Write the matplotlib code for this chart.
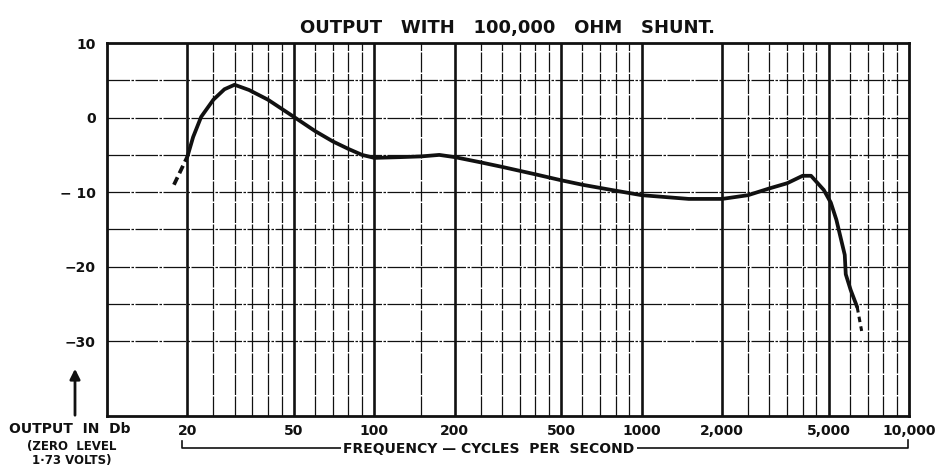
import matplotlib
matplotlib.use('Agg')
import matplotlib.pyplot as plt
from matplotlib.lines import Line2D
from matplotlib.ticker import NullLocator, FixedLocator, FixedFormatter

# ---------------- data ----------------
freq_solid = [20, 21, 22.5, 25, 27.5, 30, 34, 40, 50, 60, 70, 80, 90, 100,
              125, 150, 175, 200, 250, 300, 400, 500, 600, 800, 1000, 1500,
              2000, 2500, 3000, 3500, 4000, 4300, 4800, 5100, 5350, 5550,
              5750, 5800, 6050, 6400]
db_solid = [-5.2, -2.6, 0.1, 2.4, 3.8, 4.4, 3.7, 2.4, 0.1, -1.8, -3.2, -4.2,
            -5.0, -5.4, -5.3, -5.2, -5.0, -5.3, -6.0, -6.6, -7.6, -8.4, -9.0,
            -9.8, -10.4, -10.9, -10.9, -10.4, -9.5, -8.8, -7.8, -7.8, -9.7,
            -11.4, -13.7, -16.1, -18.4, -21.0, -23.1, -25.4]
freq_low_dash = [17.8, 20]
db_low_dash = [-9.0, -5.2]
freq_high_dash = [6400, 6650]
db_high_dash = [-25.4, -28.6]

major_freqs = [20, 50, 100, 200, 500, 1000, 2000, 5000]
minor_freqs = [25, 30, 35, 40, 45, 60, 70, 80, 90, 150, 250, 300, 350, 400,
               450, 600, 700, 800, 900, 2500, 3000, 3500, 4000, 4500, 6000,
               7000, 8000, 9000]
db_grid = [5, 0, -5, -10, -15, -20, -25, -30]

x_tick_vals = [20, 50, 100, 200, 500, 1000, 2000, 5000, 10000]
x_tick_labels = ['20', '50', '100', '200', '500', '1000', '2,000', '5,000', '10,000']
y_tick_vals = [10, 0, -10, -20, -30]
y_tick_labels = ['10', '0', '\u2212 10', '\u221220', '\u221230']

title = 'OUTPUT   WITH   100,000   OHM   SHUNT.'
xlabel = 'FREQUENCY \u2014 CYCLES  PER  SECOND'
ylabel_lines = ['OUTPUT  IN  Db', '(ZERO  LEVEL', '1\u00b773 VOLTS)']

# ---------------- figure ----------------
plt.rcParams['font.family'] = ['DejaVu Sans']
W, H = 942, 469
fig = plt.figure(figsize=(W / 100, H / 100), dpi=100)
L, R, T, B = 107, 909, 43, 416
ax = fig.add_axes([L / W, 1 - B / H, (R - L) / W, (B - T) / H])
ax.set_xscale('log')
ax.set_xlim(10, 10000)
ax.set_ylim(-40, 10)

ink = '#111111'
for f in minor_freqs:
    ax.axvline(f, color=ink, lw=0.9, ls=(0, (16, 1.2)), zorder=1)
for f in major_freqs:
    ax.axvline(f, color=ink, lw=1.9, zorder=1)
for d in db_grid:
    ax.axhline(d, color=ink, lw=0.9, ls=(0, (18, 1.2, 2, 1.2)), zorder=1)

ax.plot(freq_solid, db_solid, color=ink, lw=2.7, solid_capstyle='round',
        solid_joinstyle='round', zorder=3)
ax.plot(freq_low_dash, db_low_dash, color=ink, lw=2.7, ls=(0, (2.2, 1.2)), zorder=3)
ax.plot(freq_high_dash, db_high_dash, color=ink, lw=2.2, ls=(0, (1.8, 1.4)), zorder=3)

for s in ax.spines.values():
    s.set_linewidth(2.0)
    s.set_color(ink)

ax.xaxis.set_major_locator(FixedLocator(x_tick_vals))
ax.xaxis.set_major_formatter(FixedFormatter(x_tick_labels))
ax.xaxis.set_minor_locator(NullLocator())
ax.set_yticks(y_tick_vals)
ax.set_yticklabels(y_tick_labels)
ax.tick_params(axis='both', length=0, labelsize=10, colors=ink)
ax.tick_params(axis='x', pad=6)
ax.tick_params(axis='y', pad=8)
for lab in ax.get_xticklabels() + ax.get_yticklabels():
    lab.set_fontweight('bold')

ax.set_title(title, fontsize=13, fontweight='bold', color=ink, pad=7)

# frequency bracket
yb = 1 - 448 / H
fig.add_artist(Line2D([182 / W, 182 / W, 908 / W, 908 / W],
                      [1 - 441 / H, yb, yb, 1 - 440 / H],
                      color=ink, lw=1.2))
fig.text(489 / W, 1 - 449 / H, xlabel, ha='center', va='center', fontsize=10,
         fontweight='bold', color=ink,
         bbox=dict(facecolor='white', edgecolor='none', pad=2))

# y-axis caption
fig.text(70 / W, 1 - 429 / H, ylabel_lines[0], ha='center', va='center',
         fontsize=10, fontweight='bold', color=ink)
fig.text(72 / W, 1 - 446 / H, ylabel_lines[1], ha='center', va='center',
         fontsize=8.5, fontweight='bold', color=ink)
fig.text(72 / W, 1 - 460 / H, ylabel_lines[2], ha='center', va='center',
         fontsize=8.5, fontweight='bold', color=ink)
fig.add_artist(matplotlib.patches.FancyArrowPatch(
    (75 / W, 1 - 418 / H), (75 / W, 1 - 366 / H),
    transform=fig.transFigure, arrowstyle='-|>,head_length=6,head_width=3',
    color=ink, lw=2.0))

fig.savefig('out.png', dpi=100, facecolor='white')
